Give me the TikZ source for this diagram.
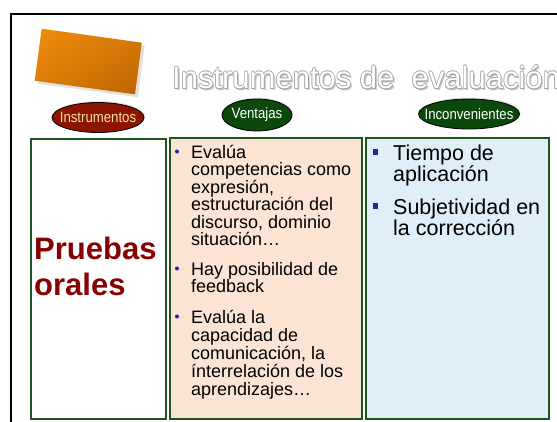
\documentclass[tikz,border=0pt]{standalone}
\usepackage{fontspec}
\setmainfont{Liberation Sans}
\newfontfamily\narrowsans[FakeStretch=0.88]{Liberation Sans}
\usetikzlibrary{shapes.geometric,shadows,shadings}
\definecolor{framegreen}{HTML}{1F561F}
\definecolor{peach}{HTML}{FCE4D4}
\definecolor{paleblue}{HTML}{DEEFF9}
\definecolor{instrred}{HTML}{8C1400}
\definecolor{pillgreen}{HTML}{0B480B}
\definecolor{pilltext}{HTML}{F6E3A0}
\definecolor{pruebared}{HTML}{880000}
\definecolor{bulletblue}{HTML}{23239A}
\definecolor{orangeA}{HTML}{F08C0C}
\definecolor{orangeB}{HTML}{BC6400}
\definecolor{orangeC}{HTML}{D87A06}
\definecolor{titleedge}{HTML}{A4A4A4}
\tikzset{
  colbox/.style={draw=framegreen, line width=2pt, inner sep=0pt, outer sep=0pt, anchor=north west},
  pill/.style={ellipse, draw=black, line width=0.8pt, inner sep=0pt,
    font=\narrowsans\fontsize{15}{15}\selectfont,
    drop shadow={shadow xshift=1.5pt, shadow yshift=1.5pt, opacity=0.18}},
  itemtxt/.style={anchor=base west, inner sep=0pt, font=\fontsize{18}{18}\selectfont},
  bigtxt/.style={anchor=base west, inner sep=0pt, font=\fontsize{21.5}{21.5}\selectfont},
  prtxt/.style={anchor=base west, inner sep=0pt, text=pruebared, font=\bfseries\fontsize{31}{31}\selectfont},
  titletxt/.style={anchor=base west, inner sep=0pt, font=\fontsize{31}{31}\selectfont},
  dotbullet/.style={circle, fill=bulletblue, inner sep=0pt, minimum size=4pt},
  sqbullet/.style={rectangle, fill=bulletblue, inner sep=0pt, minimum width=5pt, minimum height=6pt}
}
\newcommand\titlestring{Instrumentos de~~evaluación}
\begin{document}
\begin{tikzpicture}[x=1pt,y=-1pt]
\useasboundingbox (0,0) rectangle (557,421);
\clip (0,0) rectangle (557,421);
\fill[white] (0,0) rectangle (557,421);
% outer frame
\draw[line width=2pt] (11,13.5) rectangle (640,480);
% orange card with shadow
\fill[black, opacity=0.12] (44.7,31.7) -- (144.7,45.7) -- (138,97.3) -- (37.7,83.7) -- cycle;
\shade[upper left=orangeA, upper right=orangeC, lower left=orangeC, lower right=orangeB]
  (41.7,28.7) -- (141.7,42.7) -- (135,94.3) -- (34.7,80.7) -- cycle;
% title: shadow, outline, white fill
\node[titletxt, text=black!22, xshift=1.8pt, yshift=-1.8pt] (titleshadow) at (172,88.5) {\titlestring};
\foreach \dx/\dy in {-0.5/-0.5, 0/-0.6, 0.5/-0.5, -0.6/0, 0.6/0, -0.5/0.5, 0/0.6, 0.5/0.5}
  \node[titletxt, text=titleedge, xshift=\dx pt, yshift=\dy pt] at (172,88.5) {\titlestring};
\node[titletxt, text=white] (title) at (172,88.5) {\titlestring};
% column boxes
\node[colbox, fill=white, minimum width=135pt, minimum height=280pt] (col1) at (30.5,138.5) {};
\node[colbox, fill=peach, minimum width=191.5pt, minimum height=280.5pt] (col2) at (170,138) {};
\node[colbox, fill=paleblue, minimum width=182.5pt, minimum height=280.5pt] (col3) at (366,138) {};
% header pills
\node[pill, fill=instrred, text=pilltext, minimum width=92pt, minimum height=30pt] (hinstr) at (98,117.5) {\makebox[0pt]{Instrumentos}};
\node[pill, fill=pillgreen, text=white, minimum width=70pt, minimum height=32pt] (hvent) at (257,115) {\makebox[0pt]{Ventajas}};
\node[pill, fill=pillgreen, text=white, minimum width=101pt, minimum height=30pt] (hinc) at (469,114) {\makebox[0pt]{Inconvenientes}};
% column 1
\node[prtxt] (pr1) at (34,259) {Pruebas};
\node[prtxt] (pr2) at (34,295) {orales};
% column 2
\node[dotbullet] (b1) at (177,151.5) {};
\node[itemtxt] (v1a) at (191,158) {Evalúa};
\node[itemtxt] (v1b) at (191,175.5) {competencias como};
\node[itemtxt] (v1c) at (191,193) {expresión,};
\node[itemtxt] (v1d) at (191,210.5) {estructuración del};
\node[itemtxt] (v1e) at (191,228) {discurso, dominio};
\node[itemtxt] (v1f) at (191,245.5) {situación…};
\node[dotbullet] (b2) at (177,268.5) {};
\node[itemtxt] (v2a) at (191,275) {Hay posibilidad de};
\node[itemtxt] (v2b) at (191,292.5) {feedback};
\node[dotbullet] (b3) at (177,316.5) {};
\node[itemtxt] (v3a) at (191,323) {Evalúa la};
\node[itemtxt] (v3b) at (191,341) {capacidad de};
\node[itemtxt] (v3c) at (191,359) {comunicación, la};
\node[itemtxt] (v3d) at (191,377) {ínterrelación de los};
\node[itemtxt] (v3e) at (191,395.5) {aprendizajes…};
% column 3
\node[sqbullet] (s1) at (375,152) {};
\node[bigtxt] (i1a) at (393,160) {Tiempo de};
\node[bigtxt] (i1b) at (393,181) {aplicación};
\node[sqbullet] (s2) at (375,206) {};
\node[bigtxt] (i2a) at (393,214) {Subjetividad en};
\node[bigtxt] (i2b) at (393,235) {la corrección};
\end{tikzpicture}
\end{document}
